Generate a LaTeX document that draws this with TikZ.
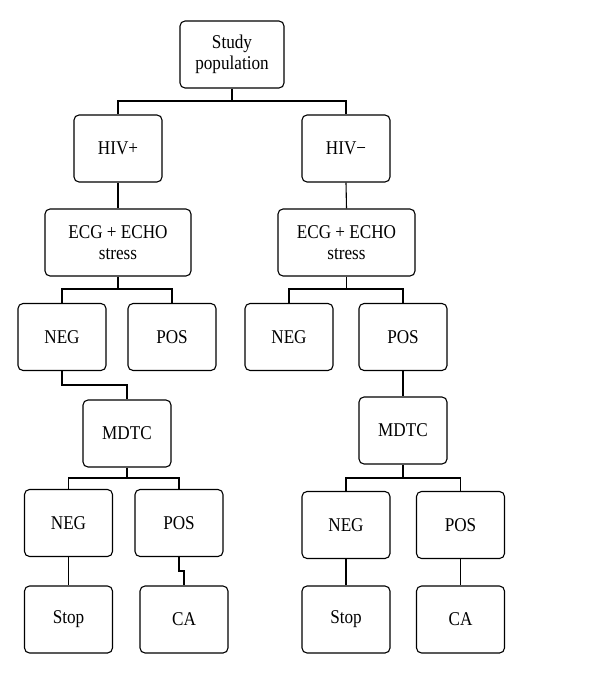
\documentclass[tikz,border=0pt]{standalone}
\usepackage{fontspec}
\setmainfont[FakeStretch=0.88]{Liberation Serif}
\begin{document}
\begin{tikzpicture}[x=1pt,y=1pt,
  box/.style={draw,line width=1.1pt,rounded corners=5pt,inner sep=0pt,align=center,
    minimum width=88pt,minimum height=67pt,font=\fontsize{19.5}{21.5}\selectfont},
  conn/.style={line width=1.1pt}]
\useasboundingbox (0,0) rectangle (600,-674);
% level 0
\node[box,minimum width=104pt] (sp) at (232,-54.5) {Study\\population};
% level 1
\node[box] (hivp) at (118,-148.5) {HIV+};
\node[box] (hivm) at (346,-148.5) {HIV\textminus};
% level 2
\node[box,minimum width=146pt] (ecgl) at (118,-242.5) {ECG + ECHO\\stress};
\node[box,minimum width=137pt] (ecgr) at (346.5,-242.5) {ECG + ECHO\\stress};
% level 3
\node[box] (negl) at (62,-337) {NEG};
\node[box] (posl) at (172,-337) {POS};
\node[box] (negr) at (289,-337) {NEG};
\node[box] (posr) at (403,-337) {POS};
% level 4
\node[box] (mdtcl) at (127,-433.5) {MDTC};
\node[box] (mdtcr) at (403,-430.5) {MDTC};
% level 5
\node[box] (negl2) at (68.5,-523) {NEG};
\node[box] (posl2) at (179,-523) {POS};
\node[box] (negr2) at (346,-525) {NEG};
\node[box] (posr2) at (460.5,-525) {POS};
% level 6
\node[box] (stopl) at (68.5,-619.5) {Stop};
\node[box] (cal) at (184,-619.5) {CA};
\node[box] (stopr) at (346,-619.5) {Stop};
\node[box] (car) at (460.5,-619.5) {CA};
% bar levels
\coordinate (b1) at (0,-101);
\coordinate (b2) at (0,-289);
\coordinate (b3) at (0,-385);
\coordinate (b4) at (0,-478);
\coordinate (j1) at (0,-571);
% connectors
\draw[conn] (sp.south) -- (sp.south |- b1) -| (hivp.north);
\draw[conn] (sp.south |- b1) -| (hivm.north);
\draw[conn] (hivp.south) -- (ecgl.north);
\draw[conn] (hivm.south) -- (ecgr.north);
\draw[conn] (ecgl.south) -- (ecgl.south |- b2) -| (negl.north);
\draw[conn] (ecgl.south |- b2) -| (posl.north);
\draw[conn] (ecgr.south) -- (ecgr.south |- b2) -| (negr.north);
\draw[conn] (ecgr.south |- b2) -| (posr.north);
\draw[conn] (negl.south) -- (negl.south |- b3) -| (mdtcl.north);
\draw[conn] (posr.south) -- (mdtcr.north);
\draw[conn] (mdtcl.south) -- (mdtcl.south |- b4) -| (negl2.north);
\draw[conn] (mdtcl.south |- b4) -| (posl2.north);
\draw[conn] (mdtcr.south) -- (mdtcr.south |- b4) -| (negr2.north);
\draw[conn] (mdtcr.south |- b4) -| (posr2.north);
\draw[conn] (negl2.south) -- (stopl.north);
\draw[conn] (posl2.south) -- (posl2.south |- j1) -| (cal.north);
\draw[conn] (negr2.south) -- (stopr.north);
\draw[conn] (posr2.south) -- (car.north);
\end{tikzpicture}
\end{document}
